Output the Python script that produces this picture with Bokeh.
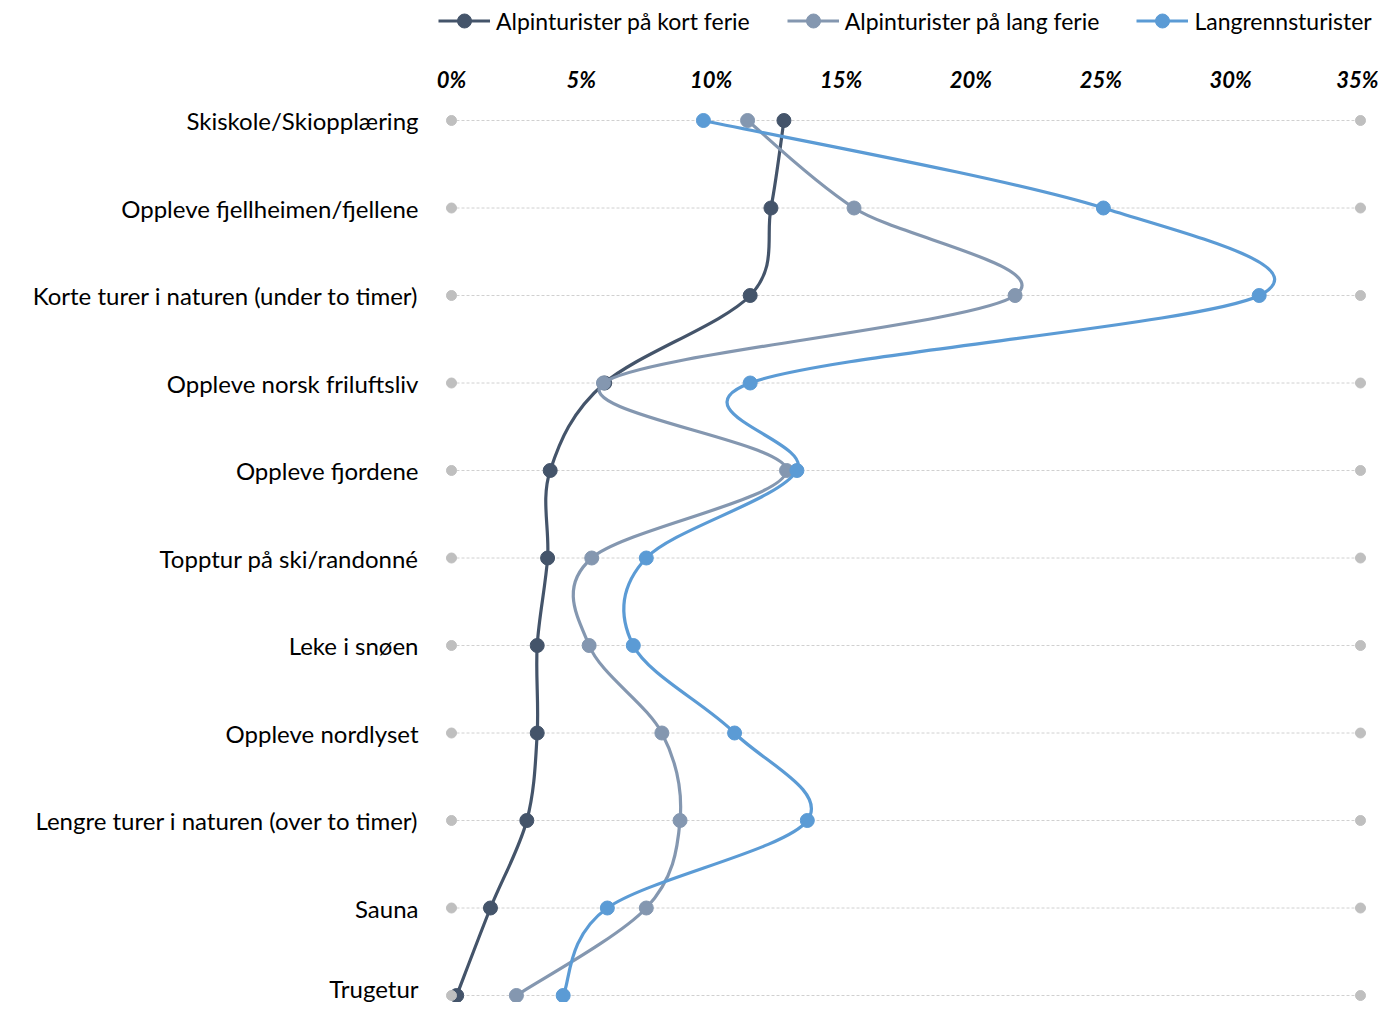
import numpy as np
from bokeh.plotting import figure
from bokeh.layouts import column
from bokeh.models import Range1d, FixedTicker, Legend, LegendItem
from bokeh.embed import file_html
from bokeh.resources import INLINE

categories = [
    "Skiskole/Skiopplæring",
    "Oppleve fjellheimen/fjellene",
    "Korte turer i naturen (under to timer)",
    "Oppleve norsk friluftsliv",
    "Oppleve fjordene",
    "Topptur på ski/randonné",
    "Leke i snøen",
    "Oppleve nordlyset",
    "Lengre turer i naturen (over to timer)",
    "Sauna",
    "Trugetur",
]
series_names = ["Alpinturister på kort ferie", "Alpinturister på lang ferie", "Langrennsturister"]
kort_ferie = [12.8, 12.3, 11.5, 5.9, 3.8, 3.7, 3.3, 3.3, 2.9, 1.5, 0.2]
lang_ferie = [11.4, 15.5, 21.7, 5.85, 12.9, 5.4, 5.3, 8.1, 8.8, 7.5, 2.5]
langrenn = [9.7, 25.1, 31.1, 11.5, 13.3, 7.5, 7.0, 10.9, 13.7, 6.0, 4.3]
tick_values = [0, 5, 10, 15, 20, 25, 30, 35]
tick_labels = ["0%", "5%", "10%", "15%", "20%", "25%", "30%", "35%"]

colors = ["#44546A", "#8497B0", "#5B9BD5"]
FONT = "Lato"

W = 1378
H_LEG = 40
H = 1002 - H_LEG
frame_top, frame_left, frame_right = 108 - H_LEG, 436, 1372
zero_px = 451
px_per_pct = (1360 - 451) / 35.0
row0_px, row_sp = 120 - H_LEG, 87.5

x_start = -(zero_px - frame_left) / px_per_pct
x_end = (frame_right - zero_px) / px_per_pct
y_top = -(row0_px - frame_top) / row_sp
y_bot = 10 + (H - (row0_px + 10 * row_sp)) / row_sp

p = figure(width=W, height=H, output_backend="svg", toolbar_location=None,
           x_axis_location="above",
           x_range=Range1d(x_start, x_end), y_range=Range1d(y_bot, y_top),
           min_border_left=frame_left, min_border_right=W - frame_right,
           min_border_top=frame_top, min_border_bottom=0)
p.outline_line_color = None
p.grid.visible = False

rows = list(range(len(categories)))

# dotted row guides from 0% to 35%
p.segment(x0=[tick_values[0]] * len(rows), x1=[tick_values[-1]] * len(rows), y0=rows, y1=rows,
          line_color="#D0D0D0", line_width=1, line_dash="3 2")

# axes
xa = p.xaxis[0]
xa.ticker = FixedTicker(ticks=tick_values)
xa.major_label_overrides = {v: l for v, l in zip(tick_values, tick_labels)}
xa.major_label_text_font = FONT
xa.major_label_text_font_size = "22px"
xa.major_label_text_font_style = "bold italic"
xa.major_label_text_color = "#000000"
xa.axis_line_color = None
xa.major_tick_line_color = None
xa.minor_tick_line_color = None
xa.major_label_standoff = 10

ya = p.yaxis[0]
ya.ticker = FixedTicker(ticks=rows)
ya.major_label_overrides = {i: c for i, c in enumerate(categories)}
ya.major_label_text_font = FONT
ya.major_label_text_font_size = "24px"
ya.major_label_text_color = "#000000"
ya.axis_line_color = None
ya.major_tick_line_color = None
ya.minor_tick_line_color = None
ya.major_label_standoff = 12

# legend strip (top)
lf = figure(width=W, height=H_LEG, output_backend="svg", toolbar_location=None,
            x_range=Range1d(0, 1), y_range=Range1d(0, 1),
            min_border_left=frame_left, min_border_right=0, min_border_top=0, min_border_bottom=0)
lf.axis.visible = False
lf.grid.visible = False
lf.outline_line_color = None

legend_items = []
for name, vals, col in zip(series_names, [kort_ferie, lang_ferie, langrenn], colors):
    v = np.array(vals, dtype=float)
    y = np.array(rows, dtype=float)
    vp = np.concatenate([[v[0]], v[:-1]])
    yp = np.concatenate([[y[0]], y[:-1]])
    vn = np.concatenate([v[1:], [v[-1]]])
    yn = np.concatenate([y[1:], [y[-1]]])
    x0, y0 = v[:-1], y[:-1]
    x1, y1 = v[1:], y[1:]
    cx0 = v[:-1] + (vn[:-1] - vp[:-1]) / 6.0
    cy0 = y[:-1] + (yn[:-1] - yp[:-1]) / 6.0
    cx1 = v[1:] - (vn[1:] - vp[1:]) / 6.0
    cy1 = y[1:] - (yn[1:] - yp[1:]) / 6.0
    p.bezier(x0=x0, y0=y0, x1=x1, y1=y1, cx0=cx0, cy0=cy0, cx1=cx1, cy1=cy1,
             line_color=col, line_width=3.2)
    p.scatter(x=v, y=y, size=14, fill_color=col, line_color=col)
    # off-screen proxies for legend glyphs
    lr = lf.line(x=[-5, -4], y=[-5, -5], line_color=col, line_width=3.2)
    sr = lf.scatter(x=[-5], y=[-5], size=14, fill_color=col, line_color=col)
    legend_items.append(LegendItem(label=name, renderers=[lr, sr]))

# grey end markers
p.scatter(x=[tick_values[0]] * len(rows) + [tick_values[-1]] * len(rows), y=rows + rows,
          size=10, fill_color="#BFBFBF", line_color="#BFBFBF")

legend = Legend(items=legend_items, orientation="horizontal",
                location=(438 - frame_left, 2),
                label_text_font=FONT, label_text_font_size="23px", label_text_color="#000000",
                glyph_width=52, glyph_height=35, label_height=26, label_standoff=6,
                spacing=37, padding=0, margin=0,
                border_line_color=None, background_fill_alpha=0)
lf.add_layout(legend, "center")

layout = column(lf, p, spacing=0)
open("out.html", "w").write(file_html(layout, INLINE))
